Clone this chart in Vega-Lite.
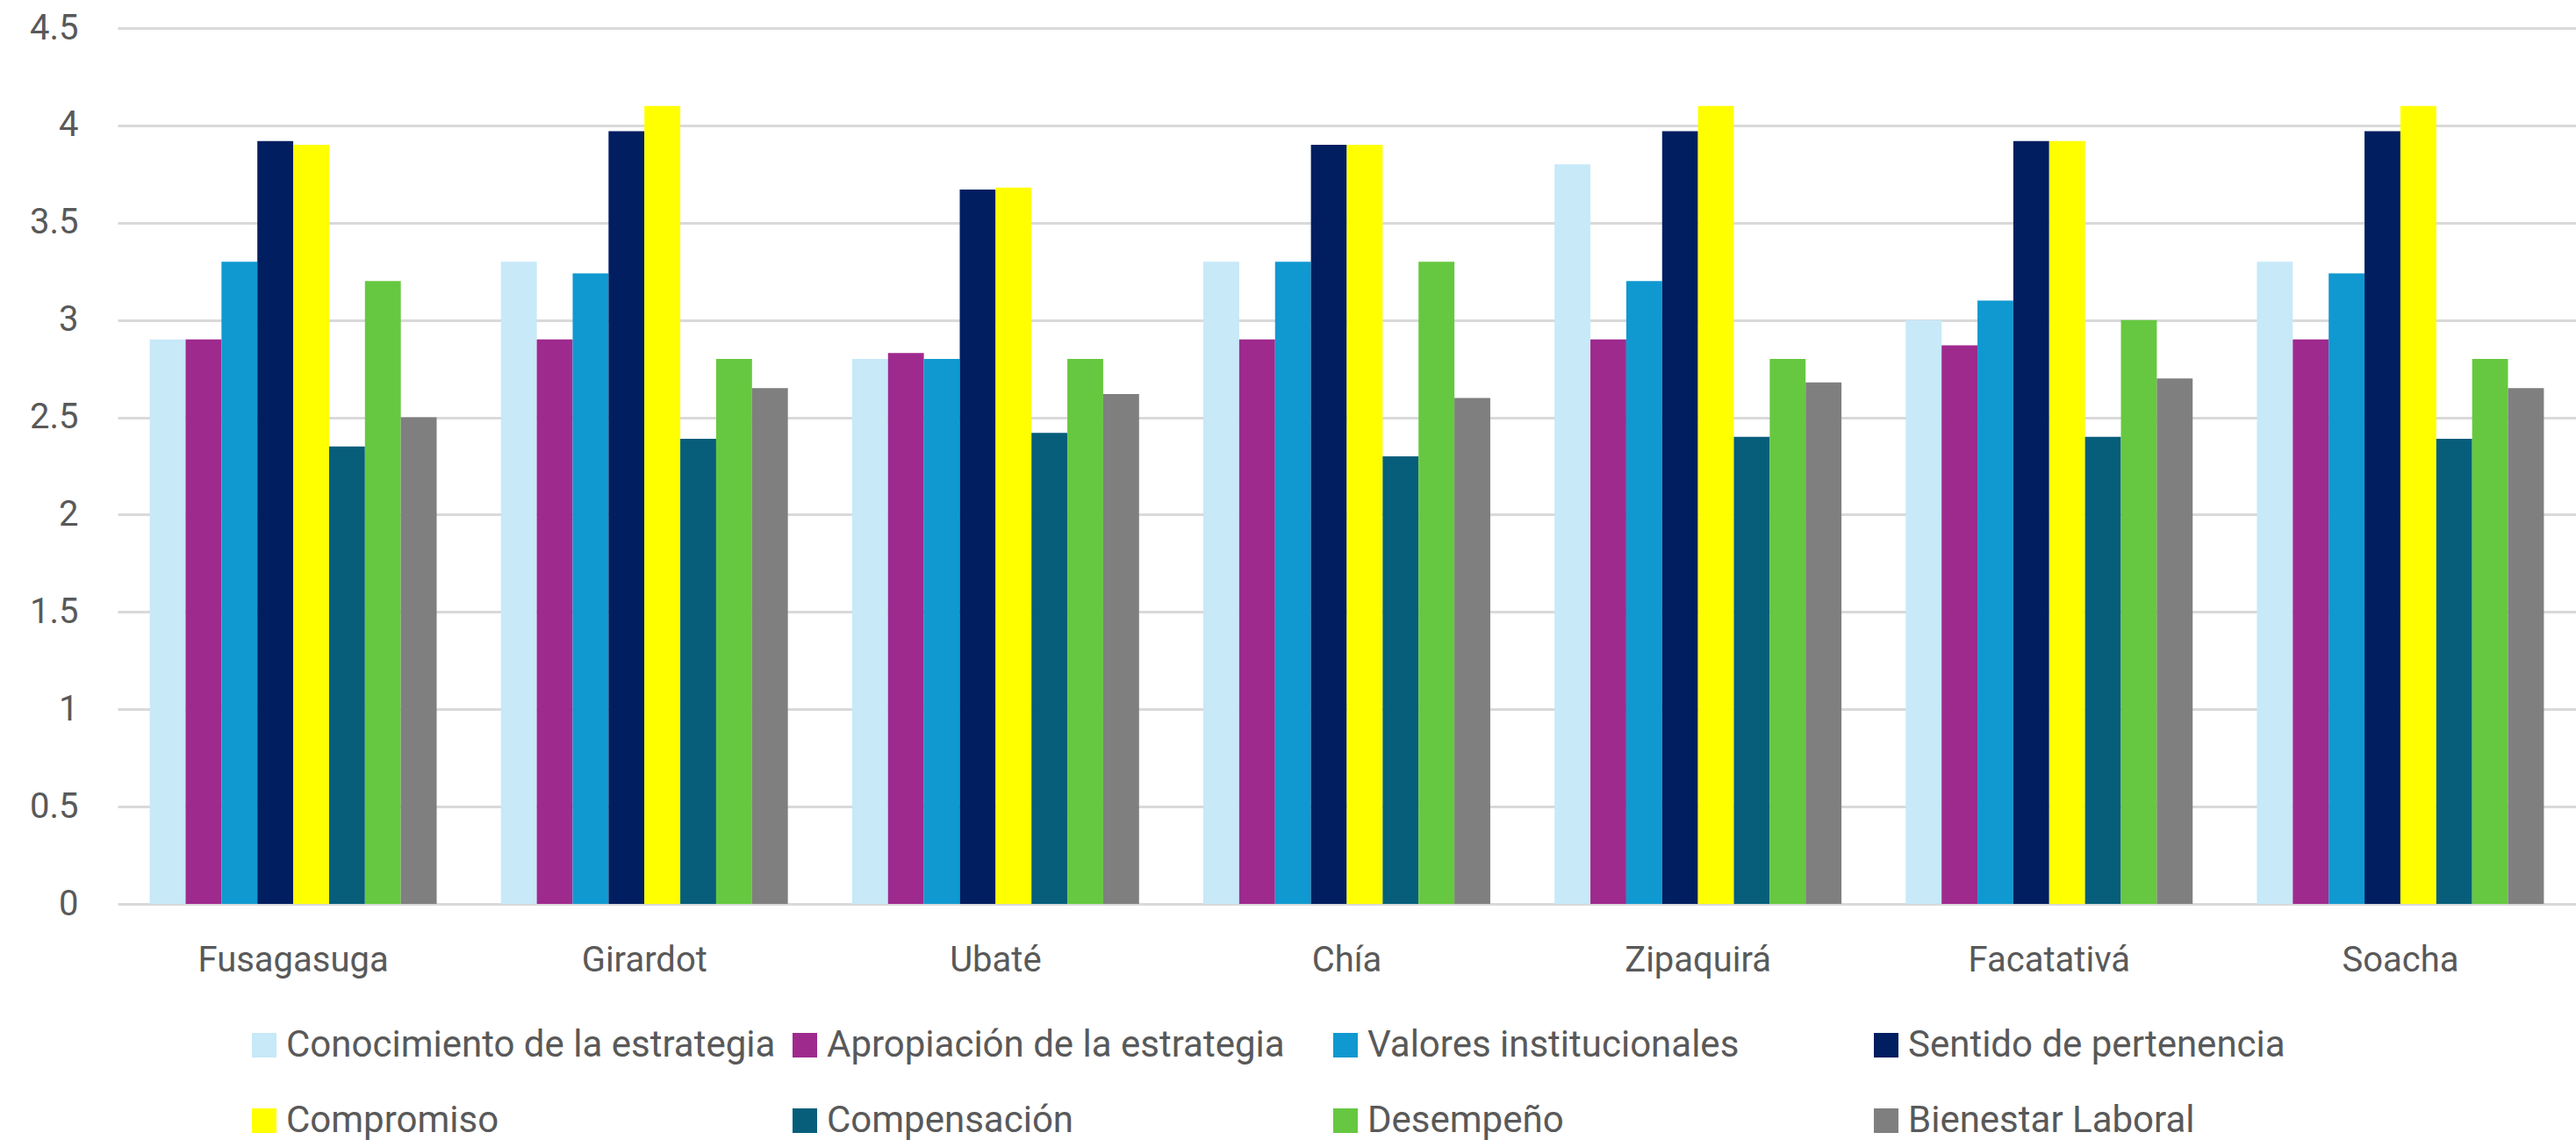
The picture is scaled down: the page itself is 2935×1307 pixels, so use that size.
{
  "$schema": "https://vega.github.io/schema/vega-lite/v6.json",
  "autosize": {"type": "none"},
  "padding": {"left": 134, "top": 32, "right": 0, "bottom": 277},
  "width": 2801,
  "height": 998,
  "background": "white",
  "config": {
    "view": {"stroke": null},
    "font": "Roboto",
    "axis": {"labelFont": "Roboto", "labelColor": "#595959", "labelFontSize": 40, "labelLimit": 1000, "domain": false, "ticks": false, "title": null}
  },
  "data": {
    "values": [
      {"ciudad": "Fusagasuga", "categoria": "Conocimiento de la estrategia", "valor": 2.9},
      {"ciudad": "Fusagasuga", "categoria": "Apropiación de la estrategia", "valor": 2.9},
      {"ciudad": "Fusagasuga", "categoria": "Valores institucionales", "valor": 3.3},
      {"ciudad": "Fusagasuga", "categoria": "Sentido de pertenencia", "valor": 3.92},
      {"ciudad": "Fusagasuga", "categoria": "Compromiso", "valor": 3.9},
      {"ciudad": "Fusagasuga", "categoria": "Compensación", "valor": 2.35},
      {"ciudad": "Fusagasuga", "categoria": "Desempeño", "valor": 3.2},
      {"ciudad": "Fusagasuga", "categoria": "Bienestar Laboral", "valor": 2.5},
      {"ciudad": "Girardot", "categoria": "Conocimiento de la estrategia", "valor": 3.3},
      {"ciudad": "Girardot", "categoria": "Apropiación de la estrategia", "valor": 2.9},
      {"ciudad": "Girardot", "categoria": "Valores institucionales", "valor": 3.24},
      {"ciudad": "Girardot", "categoria": "Sentido de pertenencia", "valor": 3.97},
      {"ciudad": "Girardot", "categoria": "Compromiso", "valor": 4.1},
      {"ciudad": "Girardot", "categoria": "Compensación", "valor": 2.39},
      {"ciudad": "Girardot", "categoria": "Desempeño", "valor": 2.8},
      {"ciudad": "Girardot", "categoria": "Bienestar Laboral", "valor": 2.65},
      {"ciudad": "Ubaté", "categoria": "Conocimiento de la estrategia", "valor": 2.8},
      {"ciudad": "Ubaté", "categoria": "Apropiación de la estrategia", "valor": 2.83},
      {"ciudad": "Ubaté", "categoria": "Valores institucionales", "valor": 2.8},
      {"ciudad": "Ubaté", "categoria": "Sentido de pertenencia", "valor": 3.67},
      {"ciudad": "Ubaté", "categoria": "Compromiso", "valor": 3.68},
      {"ciudad": "Ubaté", "categoria": "Compensación", "valor": 2.42},
      {"ciudad": "Ubaté", "categoria": "Desempeño", "valor": 2.8},
      {"ciudad": "Ubaté", "categoria": "Bienestar Laboral", "valor": 2.62},
      {"ciudad": "Chía", "categoria": "Conocimiento de la estrategia", "valor": 3.3},
      {"ciudad": "Chía", "categoria": "Apropiación de la estrategia", "valor": 2.9},
      {"ciudad": "Chía", "categoria": "Valores institucionales", "valor": 3.3},
      {"ciudad": "Chía", "categoria": "Sentido de pertenencia", "valor": 3.9},
      {"ciudad": "Chía", "categoria": "Compromiso", "valor": 3.9},
      {"ciudad": "Chía", "categoria": "Compensación", "valor": 2.3},
      {"ciudad": "Chía", "categoria": "Desempeño", "valor": 3.3},
      {"ciudad": "Chía", "categoria": "Bienestar Laboral", "valor": 2.6},
      {"ciudad": "Zipaquirá", "categoria": "Conocimiento de la estrategia", "valor": 3.8},
      {"ciudad": "Zipaquirá", "categoria": "Apropiación de la estrategia", "valor": 2.9},
      {"ciudad": "Zipaquirá", "categoria": "Valores institucionales", "valor": 3.2},
      {"ciudad": "Zipaquirá", "categoria": "Sentido de pertenencia", "valor": 3.97},
      {"ciudad": "Zipaquirá", "categoria": "Compromiso", "valor": 4.1},
      {"ciudad": "Zipaquirá", "categoria": "Compensación", "valor": 2.4},
      {"ciudad": "Zipaquirá", "categoria": "Desempeño", "valor": 2.8},
      {"ciudad": "Zipaquirá", "categoria": "Bienestar Laboral", "valor": 2.68},
      {"ciudad": "Facatativá", "categoria": "Conocimiento de la estrategia", "valor": 3.0},
      {"ciudad": "Facatativá", "categoria": "Apropiación de la estrategia", "valor": 2.87},
      {"ciudad": "Facatativá", "categoria": "Valores institucionales", "valor": 3.1},
      {"ciudad": "Facatativá", "categoria": "Sentido de pertenencia", "valor": 3.92},
      {"ciudad": "Facatativá", "categoria": "Compromiso", "valor": 3.92},
      {"ciudad": "Facatativá", "categoria": "Compensación", "valor": 2.4},
      {"ciudad": "Facatativá", "categoria": "Desempeño", "valor": 3.0},
      {"ciudad": "Facatativá", "categoria": "Bienestar Laboral", "valor": 2.7},
      {"ciudad": "Soacha", "categoria": "Conocimiento de la estrategia", "valor": 3.3},
      {"ciudad": "Soacha", "categoria": "Apropiación de la estrategia", "valor": 2.9},
      {"ciudad": "Soacha", "categoria": "Valores institucionales", "valor": 3.24},
      {"ciudad": "Soacha", "categoria": "Sentido de pertenencia", "valor": 3.97},
      {"ciudad": "Soacha", "categoria": "Compromiso", "valor": 4.1},
      {"ciudad": "Soacha", "categoria": "Compensación", "valor": 2.39},
      {"ciudad": "Soacha", "categoria": "Desempeño", "valor": 2.8},
      {"ciudad": "Soacha", "categoria": "Bienestar Laboral", "valor": 2.65}
    ]
  },
  "mark": {"type": "bar"},
  "encoding": {
    "x": {
      "field": "ciudad",
      "type": "nominal",
      "sort": ["Fusagasuga", "Girardot", "Ubaté", "Chía", "Zipaquirá", "Facatativá", "Soacha"],
      "scale": {"paddingInner": 0.183, "paddingOuter": 0.0915},
      "axis": {"labelAngle": 0, "labelPadding": 44, "grid": false, "labelLimit": 1000}
    },
    "xOffset": {
      "field": "categoria",
      "type": "nominal",
      "sort": ["Conocimiento de la estrategia", "Apropiación de la estrategia", "Valores institucionales", "Sentido de pertenencia", "Compromiso", "Compensación", "Desempeño", "Bienestar Laboral"],
      "scale": {"paddingInner": 0, "paddingOuter": 0}
    },
    "y": {
      "field": "valor",
      "type": "quantitative",
      "scale": {"domain": [0, 4.5], "nice": false},
      "axis": {"values": [0, 0.5, 1, 1.5, 2, 2.5, 3, 3.5, 4, 4.5], "labelPadding": 45, "grid": true, "gridColor": "#d9d9d9", "gridWidth": 3, "labelExpr": "datum.value"}
    },
    "color": {
      "field": "categoria",
      "type": "nominal",
      "sort": ["Conocimiento de la estrategia", "Apropiación de la estrategia", "Valores institucionales", "Sentido de pertenencia", "Compromiso", "Compensación", "Desempeño", "Bienestar Laboral"],
      "scale": {
        "domain": ["Conocimiento de la estrategia", "Apropiación de la estrategia", "Valores institucionales", "Sentido de pertenencia", "Compromiso", "Compensación", "Desempeño", "Bienestar Laboral"],
        "range": ["#c7e9f8", "#9e2a8e", "#1099d0", "#001e60", "#ffff00", "#065e7a", "#66c840", "#7f7f7f"]
      },
      "legend": {
        "title": null,
        "orient": "none",
        "legendX": 146,
        "legendY": 1138,
        "direction": "horizontal",
        "columns": 4,
        "gridAlign": "all",
        "columnPadding": 12,
        "rowPadding": 44,
        "symbolType": "square",
        "symbolSize": 784,
        "symbolStrokeWidth": 0,
        "labelOffset": 4,
        "labelFont": "Roboto",
        "labelFontSize": 42,
        "labelColor": "#595959",
        "labelLimit": 1000,
        "padding": 0
      }
    }
  }
}
